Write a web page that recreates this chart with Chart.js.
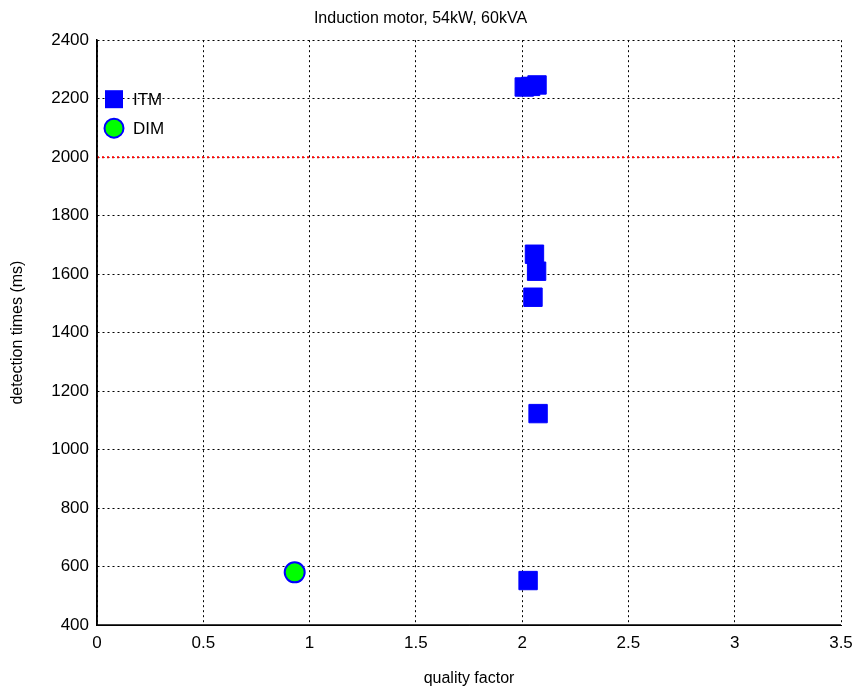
<!DOCTYPE html>
<html>
<head>
<meta charset="utf-8">
<script src="https://cdn.jsdelivr.net/npm/chart.js@4"></script>
<style>
  html, body { margin: 0; padding: 0; background: #fff; }
  #wrap { width: 866px; height: 692px; }
</style>
</head>
<body>
<div id="wrap"><canvas id="chart"></canvas></div>
<script>
// Data
var itmX = [2.01, 2.04, 2.07, 2.058, 2.068, 2.051, 2.075, 2.028];
var itmY = [2240, 2242, 2247, 1668, 1610, 1521, 1123, 552];
var dimX = [0.93];
var dimY = [580];
var limitX = [0, 3.5];
var limitY = [2000, 2000];
var xTicks = [0, 0.5, 1, 1.5, 2, 2.5, 3, 3.5];
var yTicks = [400, 600, 800, 1000, 1200, 1400, 1600, 1800, 2000, 2200, 2400];

function toPoints(xs, ys) {
    return xs.map(function (x, i) { return { x: x, y: ys[i] }; });
}

var FONT = 'Liberation Sans, Arial, sans-serif';

// Legend drawn inside the plot area, top-left (no box)
var innerLegend = {
    id: 'innerLegend',
    afterDatasetsDraw: function (chart) {
        var ctx = chart.ctx;
        var a = chart.chartArea;
        var x = a.left + 17;
        var y1 = a.top + 59;
        var y2 = a.top + 88;
        ctx.save();
        // ITM square
        ctx.fillStyle = '#0000ff';
        ctx.fillRect(x - 9, y1 - 9, 18, 18);
        // DIM circle
        ctx.beginPath();
        ctx.arc(x, y2, 9.5, 0, Math.PI * 2);
        ctx.fillStyle = '#00ff00';
        ctx.fill();
        ctx.lineWidth = 2;
        ctx.strokeStyle = '#0000ff';
        ctx.stroke();
        ctx.fillStyle = '#000';
        ctx.font = '17px ' + FONT;
        ctx.textBaseline = 'middle';
        ctx.fillText('ITM', x + 19, y1 + 1);
        ctx.fillText('DIM', x + 19, y2 + 1);
        ctx.restore();
    }
};

var ctx = document.getElementById('chart').getContext('2d');
new Chart(ctx, {
    type: 'scatter',
    data: {
        datasets: [
            {
                label: 'limit',
                type: 'line',
                data: toPoints(limitX, limitY),
                borderColor: '#ff0000',
                borderWidth: 2,
                borderDash: [2, 3],
                pointRadius: 0,
                fill: false
            },
            {
                label: 'ITM',
                data: toPoints(itmX, itmY),
                pointStyle: 'rect',
                pointRadius: 13,
                pointHoverRadius: 13,
                backgroundColor: '#0000ff',
                borderColor: '#0000ff',
                borderWidth: 1
            },
            {
                label: 'DIM',
                data: toPoints(dimX, dimY),
                pointStyle: 'circle',
                pointRadius: 10,
                pointHoverRadius: 10,
                backgroundColor: '#00ff00',
                borderColor: '#0000ff',
                borderWidth: 2
            }
        ]
    },
    options: {
        responsive: true,
        maintainAspectRatio: false,
        animation: false,
        layout: { padding: { left: 0, right: 25, top: 0, bottom: 0 } },
        plugins: {
            legend: { display: false },
            tooltip: { enabled: false },
            title: {
                display: true,
                text: 'Induction motor, 54kW, 60kVA',
                color: '#000',
                font: { family: FONT, size: 16, weight: 'normal' },
                padding: { top: 9, bottom: 12 }
            }
        },
        scales: {
            x: {
                type: 'linear',
                min: 0,
                max: 3.5,
                afterBuildTicks: function (s) { s.ticks = xTicks.map(function (v) { return { value: v }; }); },
                afterFit: function (s) { s.height = 67; },
                ticks: {
                    color: '#000',
                    font: { family: FONT, size: 17 },
                    padding: 8,
                    maxRotation: 0,
                    callback: function (v) { return String(v); }
                },
                grid: { color: '#000', lineWidth: 1, drawTicks: false },
                border: { display: true, color: '#000', width: 1, dash: [2, 3] },
                title: {
                    display: true,
                    text: 'quality factor',
                    color: '#000',
                    font: { family: FONT, size: 16 },
                    padding: { top: 2 }
                }
            },
            y: {
                type: 'linear',
                min: 400,
                max: 2400,
                afterBuildTicks: function (s) { s.ticks = yTicks.map(function (v) { return { value: v }; }); },
                afterFit: function (s) { s.width = 97; },
                ticks: {
                    color: '#000',
                    font: { family: FONT, size: 17 },
                    padding: 8,
                    callback: function (v) { return String(v); }
                },
                grid: { color: '#000', lineWidth: 1, drawTicks: false },
                border: { display: true, color: '#000', width: 1.5, dash: [2, 3] },
                title: {
                    display: true,
                    text: 'detection times (ms)',
                    color: '#000',
                    font: { family: FONT, size: 16 },
                    padding: { top: 8, bottom: 0 }
                }
            }
        }
    },
    plugins: [innerLegend, {
        // solid left/bottom axis lines over the dotted grid
        id: 'axisLines',
        afterDraw: function (chart) {
            var c = chart.ctx, a = chart.chartArea;
            c.save();
            c.strokeStyle = '#000';
            c.lineWidth = 1.5;
            c.beginPath();
            c.moveTo(a.left, a.top);
            c.lineTo(a.left, a.bottom);
            c.lineTo(a.right, a.bottom);
            c.stroke();
            c.restore();
        }
    }]
});
</script>
</body>
</html>
